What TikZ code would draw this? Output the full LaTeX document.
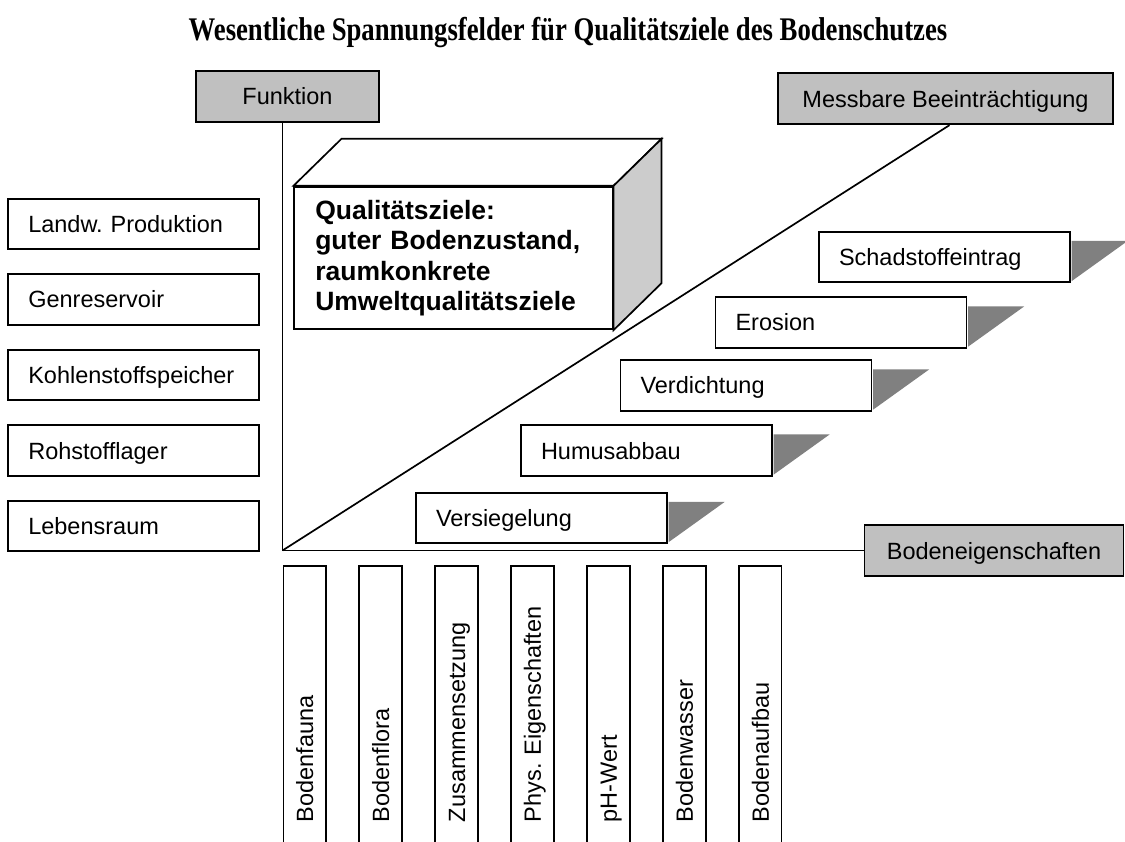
\documentclass[tikz,border=0pt]{standalone}
\usepackage{fontspec}
\usepackage{graphicx}
\setmainfont{Liberation Sans}
\newfontfamily\titlefont{Liberation Serif}
\usetikzlibrary{calc}
\definecolor{boxgray}{gray}{0.753}
\definecolor{sidegray}{gray}{0.8}
\definecolor{shadegray}{gray}{0.5}
\frenchspacing
\begin{document}
\begin{tikzpicture}[x=1pt,y=-1pt, line width=1.7pt,
  every node/.style={font=\fontsize{23.5}{28}\selectfont},
  hbox/.style={draw, fill=boxgray, minimum height=51pt, inner sep=0pt, text height=17pt, text depth=0pt},
  lbox/.style={draw, fill=white, minimum height=50.5pt, minimum width=251pt, text width=211pt, inner xsep=20pt, inner ysep=0pt, align=left, text height=17pt, text depth=0pt},
  vbox/.style={draw, rotate=90, anchor=west, minimum height=42.7pt, minimum width=278pt, text width=234pt, inner xsep=22pt, inner ysep=0pt, align=left, text height=17pt, text depth=0pt},
  shade/.style={fill=shadegray, draw=none}]
\useasboundingbox (0,0) rectangle (1125,842);
\fill[white] (0,0) rectangle (1125,842);
\clip (0,0) rectangle (1125,842);

% title
\node[anchor=base, font=\titlefont\bfseries\fontsize{33}{36}\selectfont] (title) at (568,41)
  {\scalebox{0.809}[1]{Wesentliche Spannungsfelder für Qualitätsziele des Bodenschutzes}};

% axis headers
\node[hbox, minimum width=183pt] (funk) at (287.5,96.5) {Funktion};
\node[hbox, minimum width=335pt] (mess) at (945.5,98.8) {Messbare Beeinträchtigung};
\node[hbox, minimum width=259pt] (boden) at (994,550.5) {Bodeneigenschaften};

% axes
\coordinate (O) at (282.5,550.5);
\draw (O |- funk.south) -- (O);
\draw (O) -- (boden.west);
\draw (O) -- ($(mess.south)+(4,0)$);

% left column
\foreach \name/\txt/\cy in {land/Landw. Produktion/224, gen/Genreservoir/299.5, kohl/Kohlenstoffspeicher/375, roh/Rohstofflager/450.5, leben/Lebensraum/526}
  \node[lbox] (\name) at (133.8,\cy) {\txt};

% cube
\node[draw, fill=white, minimum width=318.4pt, minimum height=142.6pt, text width=276.4pt, inner xsep=21pt, inner ysep=0pt, align=left,
  font=\bfseries\fontsize{26.5}{30.5}\selectfont] (ziele) at (453.5,258)
  {Qualitätsziele:\\guter Bodenzustand,\\raumkonkrete\\Umweltqualitätsziele};
\draw[fill=white] (ziele.north west) -- ++(48,-47) -- ($(ziele.north east)+(48,-47)$) -- (ziele.north east) -- cycle;
\draw[fill=sidegray] (ziele.north east) -- ++(48,-47) -- ($(ziele.south east)+(48,-47)$) -- (ziele.south east) -- cycle;

% impairment steps
\foreach \name/\txt/\cx/\cy in {vers/Versiegelung/541.5/518, humus/Humusabbau/646.5/450.5, verd/Verdichtung/746/385.5, eros/Erosion/841/322.5, schad/Schadstoffeintrag/944.5/257} {
  \node[lbox] (\name) at (\cx,\cy) {\txt};
  \fill[shade] ($(\name.north east)+(0.85,10)$) -- ++(56,0) -- ($(\name.south east)+(0.85,-2)$) -- cycle;
}

% soil properties
\foreach \i/\txt in {0/Bodenfauna, 1/Bodenflora, 2/Zusammensetzung, 3/Phys. Eigenschaften, 4/pH-Wert, 5/Bodenwasser, 6/Bodenaufbau}
  \node[vbox] (b\i) at ({304.7+75.93*\i},845) {\txt};
\end{tikzpicture}
\end{document}
